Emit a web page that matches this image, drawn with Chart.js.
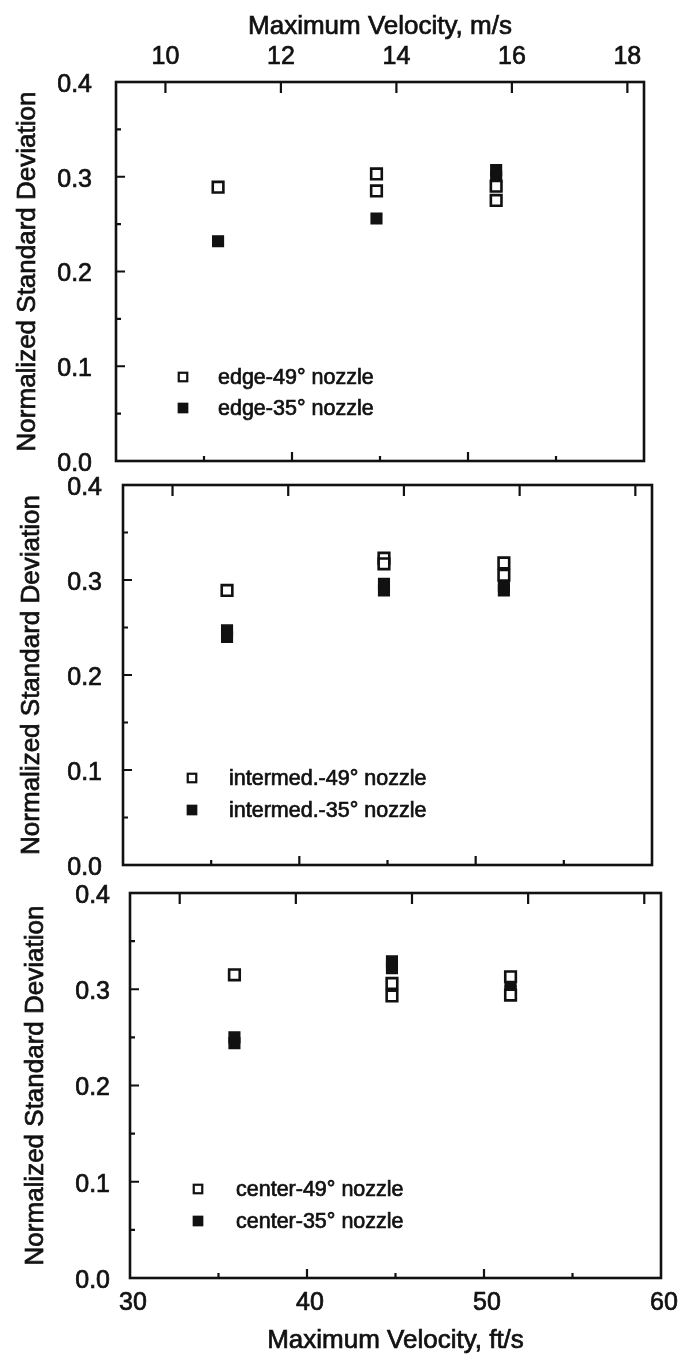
<!DOCTYPE html>
<html>
<head>
<meta charset="utf-8">
<script src="https://cdn.jsdelivr.net/npm/chart.js@4.4.0/dist/chart.umd.min.js"></script>
<style>
  html, body { margin: 0; padding: 0; background: #fff; }
  #wrap { position: relative; width: 699px; height: 1360px; background: #fff; }
  #wrap canvas { position: absolute; left: 0; top: 0; }
</style>
</head>
<body>
<div id="wrap">
  <canvas id="edge" width="699" height="1360"></canvas>
  <canvas id="intermed" width="699" height="1360"></canvas>
  <canvas id="center" width="699" height="1360"></canvas>
</div>
<script>
// Normalized standard deviation of the spray vs. maximum velocity,
// for three measuring positions and two nozzle angles.

const yTicks = [0.0, 0.1, 0.2, 0.3, 0.4];
const ftTicks = [30, 40, 50, 60];      // bottom axis labels, ft/s
const msTicks = [10, 12, 14, 16, 18];  // top axis labels, m/s
const FT_PER_M = 3.28084;

// edge position
const edge49X = [35.8, 44.8, 44.8, 51.6, 51.6];
const edge49Y = [0.289, 0.303, 0.285, 0.290, 0.275];
const edge35X = [35.8, 44.8, 51.6, 51.6];
const edge35Y = [0.232, 0.256, 0.307, 0.300];

// intermediate position
const inter49X = [35.9, 44.8, 44.8, 51.6, 51.6];
const inter49Y = [0.289, 0.323, 0.317, 0.318, 0.305];
const inter35X = [35.9, 35.9, 44.8, 44.8, 51.6, 51.6];
const inter35Y = [0.247, 0.240, 0.296, 0.289, 0.294, 0.289];

// center position
const center49X = [35.9, 44.8, 44.8, 51.5, 51.5];
const center49Y = [0.315, 0.306, 0.293, 0.313, 0.294];
const center35X = [35.9, 35.9, 44.8, 44.8, 51.5, 51.5];
const center35Y = [0.250, 0.244, 0.329, 0.322, 0.303, 0.298];

const INK = '#111';
const FONT = '"Liberation Sans", Arial, Helvetica, sans-serif';
const TEXT_STROKE = 0.7;
const W = 699, H = 1360;

function pts(xs, ys) { return xs.map((x, i) => ({ x: x, y: ys[i] })); }

// Box frame with inward tick marks on the left, top (m/s) and bottom (ft/s) edges
const framePlugin = {
  id: 'frame',
  beforeDatasetsDraw(chart) {
    const { ctx, chartArea: a, scales } = chart;
    const xs = scales.x, ys = scales.y;
    ctx.save();
    ctx.strokeStyle = INK;
    ctx.lineWidth = 2.6;
    ctx.strokeRect(a.left, a.top, a.right - a.left, a.bottom - a.top);
    ctx.lineWidth = 2.2;
    ctx.beginPath();
    for (let i = 1; i < 8; i++) {
      const py = ys.getPixelForValue(i * 0.05);
      const len = i % 2 === 0 ? 9 : 5;
      ctx.moveTo(a.left, py); ctx.lineTo(a.left + len, py);
    }
    msTicks.forEach(m => {
      const px = xs.getPixelForValue(m * FT_PER_M);
      ctx.moveTo(px, a.top); ctx.lineTo(px, a.top + 11);
    });
    for (let v = 35; v < 60; v += 5) {
      const px = xs.getPixelForValue(v);
      const len = v % 10 === 0 ? 9 : 5;
      ctx.moveTo(px, a.bottom); ctx.lineTo(px, a.bottom - len);
    }
    ctx.stroke();
    ctx.restore();
  }
};

// Gives the axis titles the same slightly heavier ink as the tick labels
const titleInkPlugin = {
  id: 'titleInk',
  afterDraw(chart) {
    const ctx = chart.ctx;
    Object.values(chart.scales).forEach(s => {
      const t = s.options.title;
      if (!s.options.display || !t.display) return;
      const f = Chart.helpers.toFont(t.font);
      const pad = Chart.helpers.toPadding(t.padding);
      ctx.save();
      ctx.font = f.string;
      ctx.textAlign = 'center';
      ctx.textBaseline = 'middle';
      ctx.strokeStyle = INK;
      ctx.lineWidth = TEXT_STROKE;
      if (s.position === 'left') {
        ctx.translate(s.left + f.lineHeight / 2 + pad.top, (s.top + s.bottom) / 2);
        ctx.rotate(-Math.PI / 2);
        ctx.strokeText(t.text, 0, 0);
      } else if (s.position === 'top') {
        ctx.strokeText(t.text, (s.left + s.right) / 2, s.top + f.lineHeight / 2 + pad.top);
      } else {
        ctx.strokeText(t.text, (s.left + s.right) / 2, s.bottom - f.lineHeight / 2 - pad.bottom);
      }
      ctx.restore();
    });
  }
};

// Two-row key drawn inside the plot box
const keyPlugin = {
  id: 'insetKey',
  afterDatasetsDraw(chart, args, o) {
    const ctx = chart.ctx;
    ctx.save();
    ctx.font = '21.5px ' + FONT;
    ctx.textBaseline = 'middle';
    ctx.textAlign = 'left';
    chart.data.datasets.forEach((ds, i) => {
      const y = o.y + i * o.gap;
      const s = 8.5;
      ctx.lineWidth = 2.2;
      ctx.strokeStyle = INK;
      ctx.fillStyle = ds.backgroundColor;
      ctx.fillRect(o.x - s / 2, y - s / 2, s, s);
      ctx.strokeRect(o.x - s / 2, y - s / 2, s, s);
      ctx.fillStyle = INK;
      ctx.lineWidth = TEXT_STROKE;
      ctx.fillText(ds.label, o.textX, y + 1);
      ctx.strokeText(ds.label, o.textX, y + 1);
    });
    ctx.restore();
  }
};

function makePanel(p) {
  const a = p.area;
  const titleFont = { family: FONT, size: 26 };
  const tickFont = { family: FONT, size: 25 };
  const tickText = { font: tickFont, color: INK, textStrokeColor: INK, textStrokeWidth: TEXT_STROKE };
  return new Chart(document.getElementById(p.id), {
    type: 'scatter',
    data: {
      datasets: [
        { label: p.labels[0], data: pts(p.openX, p.openY), pointStyle: 'rect',
          pointRadius: 7.5, borderWidth: 2.6, borderColor: INK, backgroundColor: '#fff' },
        { label: p.labels[1], data: pts(p.fillX, p.fillY), pointStyle: 'rect',
          pointRadius: 7.5, borderWidth: 1.5, borderColor: INK, backgroundColor: INK }
      ]
    },
    options: {
      responsive: false,
      animation: false,
      devicePixelRatio: 1,
      layout: { padding: {
        left: p.yTitleLeft,
        right: W - a.right,
        top: p.showTop ? 0 : a.top,
        bottom: p.showBottom ? 0 : H - a.bottom
      } },
      plugins: {
        legend: { display: false },
        tooltip: { enabled: false },
        insetKey: p.key
      },
      scales: {
        x: {
          type: 'linear', position: 'bottom', min: 30, max: 60,
          display: p.showBottom,
          grid: { display: false, drawTicks: false }, border: { display: false },
          afterBuildTicks: s => { s.ticks = ftTicks.map(v => ({ value: v })); },
          afterFit: s => { if (p.showBottom) s.height = H - a.bottom; },
          ticks: Object.assign({ padding: 10, maxRotation: 0, autoSkip: false, labelOffset: 3 }, tickText),
          title: { display: true, text: 'Maximum Velocity, ft/s', font: titleFont, color: INK,
                   padding: { top: 0, bottom: 4 } }
        },
        x2: {
          type: 'linear', position: 'top', min: 30 / FT_PER_M, max: 60 / FT_PER_M,
          display: p.showTop,
          grid: { display: false, drawTicks: false }, border: { display: false },
          afterBuildTicks: s => { s.ticks = msTicks.map(v => ({ value: v })); },
          afterFit: s => { if (p.showTop) s.height = a.top; },
          ticks: Object.assign({ padding: 10, maxRotation: 0, autoSkip: false }, tickText),
          title: { display: true, text: 'Maximum Velocity, m/s', font: titleFont, color: INK,
                   padding: { top: 11, bottom: 0 } }
        },
        y: {
          type: 'linear', position: 'left', min: 0, max: 0.4,
          grid: { display: false, drawTicks: false }, border: { display: false },
          afterBuildTicks: s => { s.ticks = yTicks.map(v => ({ value: v })); },
          afterFit: s => { s.width = a.left - p.yTitleLeft; },
          ticks: Object.assign({ padding: p.tickPad, labelOffset: 3,
                   callback: v => v.toFixed(1) }, tickText),
          title: { display: true, text: 'Normalized Standard Deviation', font: titleFont, color: INK,
                   padding: { top: 0, bottom: 0 } }
        }
      }
    },
    plugins: [framePlugin, keyPlugin, titleInkPlugin]
  });
}

makePanel({
  id: 'edge', area: { left: 116, top: 82, right: 644, bottom: 461 },
  yTitleLeft: 12, tickPad: 24, showTop: true, showBottom: false,
  labels: ['edge-49\u00B0 nozzle', 'edge-35\u00B0 nozzle'],
  openX: edge49X, openY: edge49Y, fillX: edge35X, fillY: edge35Y,
  key: { x: 183, y: 377, gap: 31, textX: 218 }
});

makePanel({
  id: 'intermed', area: { left: 123, top: 485, right: 652, bottom: 865 },
  yTitleLeft: 16, tickPad: 21, showTop: false, showBottom: false,
  labels: ['intermed.-49\u00B0 nozzle', 'intermed.-35\u00B0 nozzle'],
  openX: inter49X, openY: inter49Y, fillX: inter35X, fillY: inter35Y,
  key: { x: 192, y: 778, gap: 32, textX: 229 }
});

makePanel({
  id: 'center', area: { left: 130, top: 893, right: 661, bottom: 1278 },
  yTitleLeft: 20, tickPad: 20, showTop: false, showBottom: true,
  labels: ['center-49\u00B0 nozzle', 'center-35\u00B0 nozzle'],
  openX: center49X, openY: center49Y, fillX: center35X, fillY: center35Y,
  key: { x: 198, y: 1189, gap: 32, textX: 236 }
});
</script>
</body>
</html>
